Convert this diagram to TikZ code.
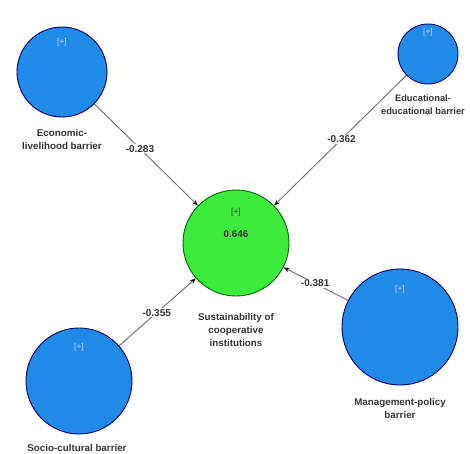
\documentclass[tikz,border=0pt]{standalone}
\usepackage{fontspec}
\setmainfont{Liberation Sans}
\usetikzlibrary{arrows.meta}
\definecolor{lvblue}{HTML}{1F8AE8}
\definecolor{lvgreen}{HTML}{3DEB3D}
\definecolor{edgegray}{HTML}{777777}
\definecolor{txt}{HTML}{333333}
\begin{document}
\begin{tikzpicture}[x=1pt,y=-1pt,
  lv/.style={circle,draw=black!60!blue,line width=0.9pt,fill=lvblue,inner sep=0pt},
  endo/.style={circle,draw=black!60!green,line width=0.9pt,fill=lvgreen,inner sep=0pt},
  lbl/.style={font=\fontsize{9.8}{13}\selectfont\bfseries,text=txt,align=center,inner sep=0pt},
  plus/.style={font=\fontsize{8.5}{9}\selectfont,text=white!80!blue,inner sep=0pt},
  edge/.style={draw=edgegray,line width=1pt,-{Stealth[length=6pt,width=4.5pt,color=black]}},
  elab/.style={fill=white,font=\fontsize{10}{11}\selectfont\bfseries,text=txt,inner sep=1pt}]
\useasboundingbox (0,0) rectangle (470,453);
% latent variables
\node[lv, minimum size=90] (eco) at (62,72) {};
\node[lv, minimum size=60] (edu) at (428,54) {};
\node[endo, minimum size=106] (sus) at (236,243) {};
\node[lv, minimum size=106] (soc) at (79,381) {};
\node[lv, minimum size=116] (man) at (400,327) {};
% [+] markers
\node[plus] (ecop) at (62,42) {[+]};
\node[plus] (edup) at (428,32) {[+]};
\node[plus] (socp) at (79,347) {[+]};
\node[plus] (manp) at (400,289) {[+]};
\node[plus,text=txt] (susp) at (236,212) {[+]};
\node[font=\fontsize{9.8}{11}\selectfont\bfseries,text=txt,inner sep=0pt] (r2) at (236,234) {0.646};
% labels
\node[lbl] (ecol) at (62,139) {Economic-\\livelihood barrier};
\node[lbl,font=\fontsize{9.3}{13}\selectfont\bfseries] (edul) at (423,105) {Educational-\\educational barrier};
\node[lbl] (susl) at (236,330) {Sustainability of\\cooperative\\institutions};
\node[lbl] (socl) at (77,448) {Socio-cultural barrier};
\node[lbl] (manl) at (400,408) {Management-policy\\barrier};
% paths
\draw[edge] (eco) -- node[elab,pos=0.44] (e1) {-0.283} (sus);
\draw[edge] (edu) -- node[elab,pos=0.49] (e2) {-0.362} (sus);
\draw[edge] (soc) -- node[elab,pos=0.49] (e3) {-0.355} (sus);
\draw[edge] (man) -- node[elab,pos=0.51] (e4) {-0.381} (sus);
\end{tikzpicture}
\end{document}
